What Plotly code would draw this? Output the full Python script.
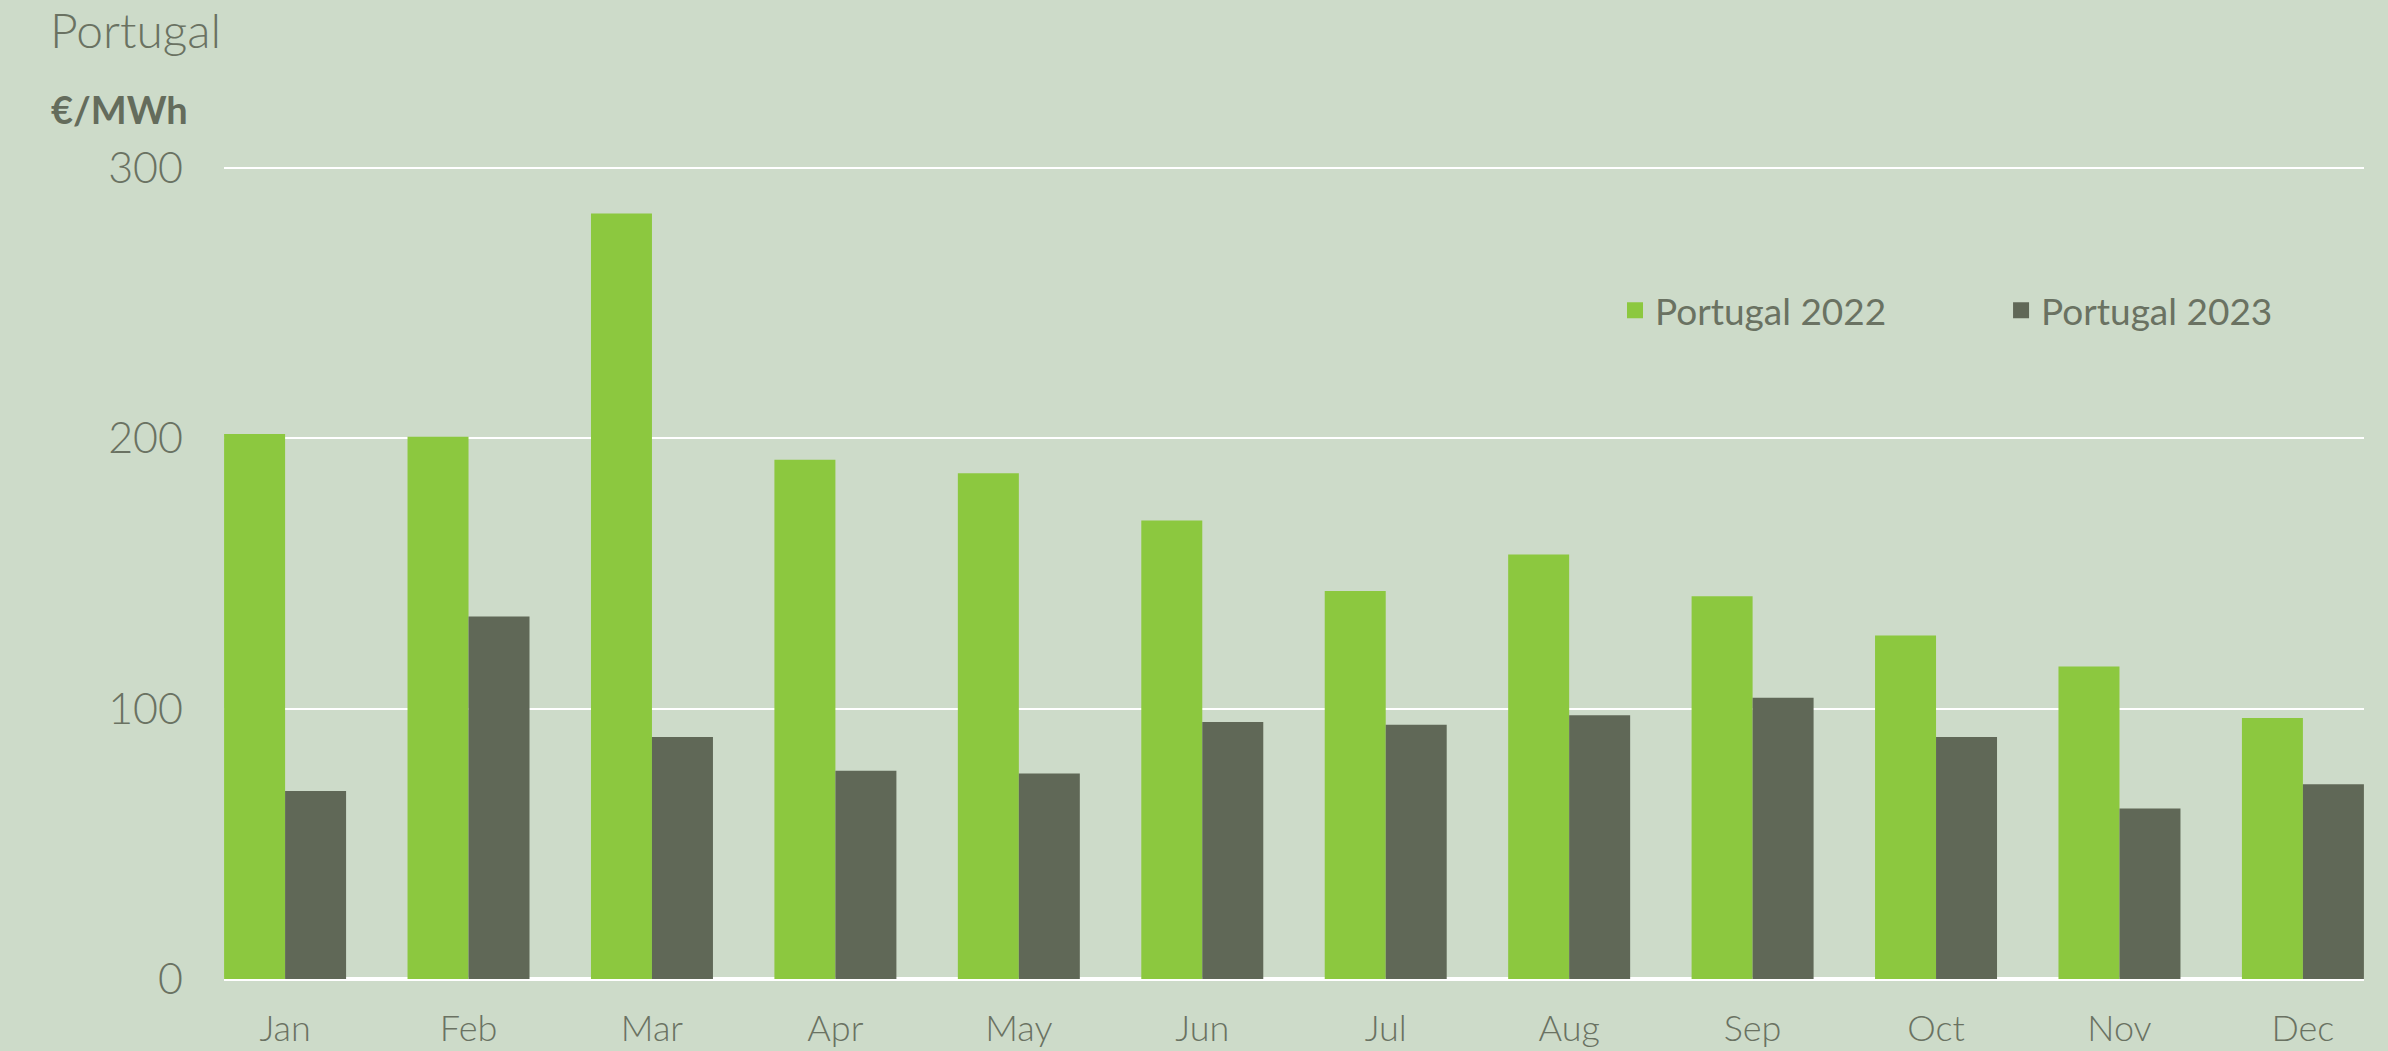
import plotly.graph_objects as go

months = ["Jan", "Feb", "Mar", "Apr", "May", "Jun", "Jul", "Aug", "Sep", "Oct", "Nov", "Dec"]
portugal_2022 = [201.5, 200.5, 283.0, 192.0, 187.0, 169.5, 143.5, 157.0, 141.5, 127.0, 115.5, 96.5]
portugal_2023 = [69.5, 134.0, 89.5, 77.0, 76.0, 95.0, 94.0, 97.5, 104.0, 89.5, 63.0, 72.0]
series_names = ["Portugal 2022", "Portugal 2023"]
y_ticks = [0, 100, 200, 300]

BG = "#cddbc9"
GREEN = "#8cc83f"
DARK = "#606857"
TEXT = "#6a7262"
FONT = "Lato"

fig = go.Figure()
for name, vals, col, lg in [(series_names[0], portugal_2022, GREEN, "legend"),
                            (series_names[1], portugal_2023, DARK, "legend2")]:
    fig.add_trace(go.Bar(x=months, y=vals, name=name, marker=dict(color=col, line=dict(width=0)),
                         showlegend=False))
    fig.add_trace(go.Scatter(x=[None], y=[None], mode="markers", name=name, legend=lg,
                             marker=dict(symbol="square", size=16, color=col), showlegend=True))

legend_common = dict(orientation="h", xanchor="left", y=0.822, yanchor="middle",
                     bgcolor="rgba(0,0,0,0)", font=dict(size=37, color=TEXT, family=FONT, weight=400),
                     itemsizing="trace")

fig.update_layout(
    width=2388, height=1051,
    paper_bgcolor=BG, plot_bgcolor=BG,
    margin=dict(l=224, r=24, t=166, b=72),
    barmode="group", bargap=0.335, bargroupgap=0,
    font=dict(family=FONT, color=TEXT, weight=300),
    legend=dict(x=0.650, **legend_common),
    legend2=dict(x=0.8304, **legend_common),
    xaxis=dict(type="category", range=[-0.333, 11.333], showgrid=False, showline=False,
               ticks="", tickfont=dict(size=36, color=TEXT, family=FONT, weight=300),
               ticklabelstandoff=25, automargin=False, fixedrange=True),
    yaxis=dict(range=[0, 300.6], tickvals=y_ticks, showgrid=True, gridcolor="white", gridwidth=2.3,
               zeroline=True, zerolinecolor="white", zerolinewidth=3.5, showline=False,
               tickfont=dict(size=43, color=TEXT, family=FONT, weight=300),
               ticklabelstandoff=40, automargin=False, fixedrange=True),
    showlegend=True,
)

fig.add_annotation(text="Portugal", xref="paper", yref="paper", x=-0.0822, y=1.205,
                   xanchor="left", yanchor="top", showarrow=False,
                   font=dict(size=48, color=TEXT, family=FONT, weight=300))
fig.add_annotation(text="<b>€/MWh</b>", xref="paper", yref="paper", x=-0.0818, y=1.07,
                   xanchor="left", yanchor="middle", showarrow=False,
                   font=dict(size=38, color="#646c5c", family=FONT))

fig.write_html("out.html", config={"displayModeBar": False},
               post_script="document.body.style.margin='0';document.body.style.overflow='hidden';")
